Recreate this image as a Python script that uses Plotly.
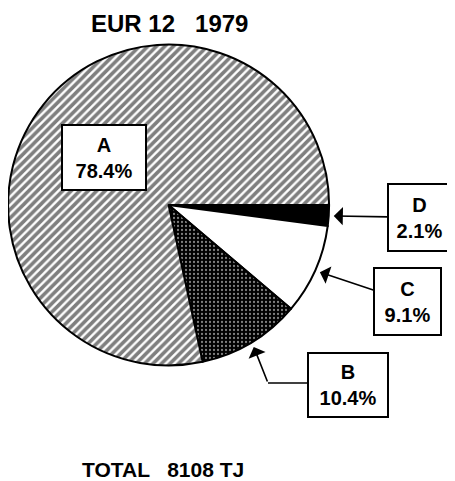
import math
import plotly.graph_objects as go

# ---- data ----
title_text = "EUR 12   1979"
total_text = "TOTAL   8108 TJ"
labels = ["D", "C", "B", "A"]
values = [2.1, 9.1, 10.4, 78.4]
slice_colors = ["black", "white", "black", "white"]
pattern_shapes = ["", "", ".", "/"]
pattern_fg = ["black", "black", "white", "black"]

# page body has an 8px margin: the figure is offset by it
OFF = 8
W, H = 455 - OFF, 481 - OFF
CX, CY, R = 168.6, 205.0, 160.5


def px(x):
    return (x - OFF) / W


def py(y):
    return 1 - (y - OFF) / H


fig = go.Figure()
fig.add_trace(go.Pie(
    labels=labels,
    values=values,
    sort=False,
    direction="clockwise",
    rotation=90,
    textinfo="none",
    hoverinfo="skip",
    showlegend=False,
    domain=dict(x=[max(0, px(CX - R)), px(CX + R)], y=[py(CY + R), py(CY - R)]),
    marker=dict(
        colors=slice_colors,
        line=dict(color="black", width=2),
        pattern=dict(shape=pattern_shapes, fgcolor=pattern_fg,
                     fillmode="overlay", size=[6, 6, 4, 6],
                     solidity=[0.3, 0.3, 0.25, 0.6]),
    ),
))

# arrow tips at the middle of each slice, just outside the rim
total = sum(values)
tips = {}
cum = 0.0
for lab, v in zip(labels, values):
    mid = (cum + v / 2) / total * 2 * math.pi  # clockwise from 3 o'clock
    cum += v
    tips[lab] = (CX + (R + 5) * math.cos(mid), CY + (R + 5) * math.sin(mid))

font_box = dict(family="Liberation Sans, Arial, sans-serif", size=20, color="black")
boxes = {  # label: (center x, center y, width, height)
    "A": (104, 157.5, 86, 67),
    "D": (419.5, 217.5, 65, 69),
    "C": (407.5, 301.5, 69, 69),
    "B": (348, 385, 82, 66),
}
pct = {lab: v for lab, v in zip(labels, values)}

AH = dict(arrowhead=1, arrowsize=1.9, arrowwidth=1.6, arrowcolor="black", standoff=0)

for lab, (bx, by, bw, bh) in boxes.items():
    text = f"<b>{lab}<br>{pct[lab]:.1f}%</b>"
    common = dict(text=text, font=font_box, bgcolor="white", bordercolor="black",
                  borderwidth=2, borderpad=0, width=bw - 4, height=bh - 4,
                  xref="paper", yref="paper", align="center", valign="middle")
    if lab in ("D", "C"):
        tx, ty = tips[lab]
        fig.add_annotation(x=px(tx), y=py(ty), ax=bx - tx, ay=by - ty,
                           showarrow=True, **AH, **common)
    else:
        fig.add_annotation(x=px(bx), y=py(by), xanchor="center", yanchor="middle",
                           showarrow=False, **common)

# B arrow with elbow
bx, by, bw, bh = boxes["B"]
elbow = (268, 383)
fig.add_shape(type="line", xref="paper", yref="paper",
              x0=px(bx - bw / 2), y0=py(elbow[1]), x1=px(elbow[0]), y1=py(elbow[1]),
              line=dict(color="black", width=1.6))
tx, ty = tips["B"]
fig.add_annotation(x=px(tx), y=py(ty), ax=elbow[0] - tx, ay=elbow[1] - ty,
                   xref="paper", yref="paper", text="", showarrow=True, **AH)

font_title = dict(family="Liberation Sans, Arial, sans-serif", size=24, color="black")
font_total = dict(family="Liberation Sans, Arial, sans-serif", size=21, color="black")
fig.add_annotation(x=px(169), y=py(23), text=f"<b>{title_text}</b>", showarrow=False,
                   xref="paper", yref="paper", xanchor="center", yanchor="middle",
                   font=font_title)
fig.add_annotation(x=px(163), y=py(469), text=f"<b>{total_text}</b>", showarrow=False,
                   xref="paper", yref="paper", xanchor="center", yanchor="middle",
                   font=font_total)

fig.update_layout(width=W, height=H, margin=dict(l=0, r=0, t=0, b=0),
                  paper_bgcolor="white", plot_bgcolor="white")
fig.write_html("out.html")
